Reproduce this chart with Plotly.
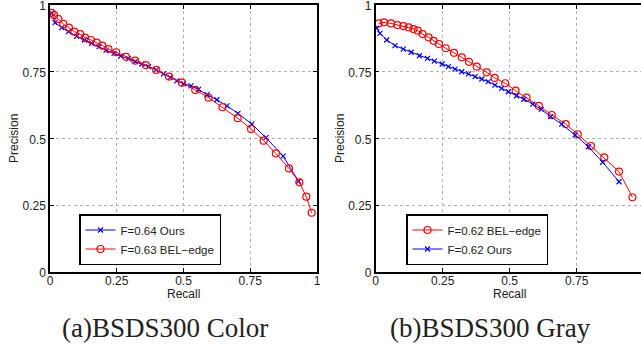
import plotly.graph_objects as go

# ---- data ----
# (a) BSDS300 Color
a_ours_recall = [0.006, 0.019, 0.044, 0.069, 0.100, 0.129, 0.156, 0.184, 0.210, 0.240,
                 0.265, 0.294, 0.319, 0.344, 0.369, 0.398, 0.425, 0.450, 0.475, 0.500,
                 0.528, 0.556, 0.588, 0.625, 0.663, 0.704, 0.756, 0.809, 0.873, 0.931]
a_ours_prec = [0.970, 0.934, 0.915, 0.900, 0.883, 0.869, 0.856, 0.844, 0.831, 0.819,
               0.809, 0.799, 0.788, 0.779, 0.769, 0.757, 0.742, 0.729, 0.716, 0.705,
               0.697, 0.684, 0.664, 0.645, 0.622, 0.594, 0.554, 0.503, 0.434, 0.340]
a_bel_recall = [0.006, 0.015, 0.031, 0.050, 0.071, 0.091, 0.113, 0.131, 0.153, 0.175,
                0.196, 0.219, 0.248, 0.285, 0.319, 0.359, 0.398, 0.446, 0.494, 0.544,
                0.594, 0.646, 0.703, 0.753, 0.800, 0.846, 0.895, 0.934, 0.960, 0.980]
a_bel_prec = [0.971, 0.962, 0.948, 0.929, 0.915, 0.900, 0.891, 0.878, 0.869, 0.859,
              0.848, 0.835, 0.823, 0.806, 0.792, 0.775, 0.757, 0.732, 0.709, 0.682,
              0.653, 0.617, 0.576, 0.536, 0.492, 0.444, 0.388, 0.336, 0.282, 0.222]

# (b) BSDS300 Gray
b_bel_recall = [0.011, 0.031, 0.057, 0.081, 0.103, 0.123, 0.141, 0.157, 0.175, 0.197,
                0.216, 0.236, 0.261, 0.292, 0.321, 0.348, 0.377, 0.414, 0.444, 0.483,
                0.522, 0.563, 0.609, 0.657, 0.709, 0.754, 0.803, 0.853, 0.908, 0.958]
b_bel_prec = [0.931, 0.935, 0.931, 0.925, 0.921, 0.916, 0.910, 0.904, 0.891, 0.879,
              0.866, 0.854, 0.838, 0.821, 0.804, 0.787, 0.769, 0.748, 0.727, 0.707,
              0.679, 0.653, 0.622, 0.588, 0.554, 0.516, 0.472, 0.429, 0.376, 0.280]
b_ours_recall = [0.004, 0.016, 0.041, 0.072, 0.103, 0.132, 0.163, 0.193, 0.219, 0.248,
                 0.271, 0.296, 0.321, 0.346, 0.371, 0.396, 0.420, 0.445, 0.470, 0.495,
                 0.526, 0.553, 0.586, 0.618, 0.653, 0.694, 0.744, 0.794, 0.847, 0.908]
b_ours_prec = [0.913, 0.894, 0.869, 0.848, 0.835, 0.823, 0.810, 0.800, 0.790, 0.779,
               0.769, 0.760, 0.750, 0.742, 0.732, 0.723, 0.713, 0.700, 0.688, 0.675,
               0.660, 0.647, 0.629, 0.609, 0.582, 0.554, 0.513, 0.469, 0.411, 0.338]

tick_vals = [0, 0.25, 0.5, 0.75, 1]
tick_text = ["0", "0.25", "0.5", "0.75", "1"]
names_a = ["F=0.64 Ours", "F=0.63 BEL\u2212edge"]
names_b = ["F=0.62 BEL\u2212edge", "F=0.62 Ours"]
captions = ["(a)BSDS300 Color", "(b)BSDS300 Gray"]
x_title = "Recall"
y_title = "Precision"

BLUE = "#0000ff"
RED = "#ff0000"
W, H = 641, 345

fig = go.Figure()

def ours_trace(x, y, name, xa, ya, leg):
    return go.Scatter(x=x, y=y, name=name, mode="lines+markers", xaxis=xa, yaxis=ya,
                      legend=leg, line=dict(color=BLUE, width=1),
                      marker=dict(symbol="x-thin", size=5, line=dict(color=BLUE, width=1.2)))

def bel_trace(x, y, name, xa, ya, leg):
    return go.Scatter(x=x, y=y, name=name, mode="lines+markers", xaxis=xa, yaxis=ya,
                      legend=leg, line=dict(color=RED, width=1),
                      marker=dict(symbol="circle-open", size=7, line=dict(color=RED, width=1.2)))

fig.add_trace(ours_trace(a_ours_recall, a_ours_prec, names_a[0], "x", "y", "legend"))
fig.add_trace(bel_trace(a_bel_recall, a_bel_prec, names_a[1], "x", "y", "legend"))
fig.add_trace(bel_trace(b_bel_recall, b_bel_prec, names_b[0], "x2", "y2", "legend2"))
fig.add_trace(ours_trace(b_ours_recall, b_ours_prec, names_b[1], "x2", "y2", "legend2"))

tick_font = dict(family="Liberation Sans, Arial, sans-serif", size=12, color="#222")
common = dict(tickvals=tick_vals, ticktext=tick_text, showline=True, linecolor="black",
              linewidth=1.5, ticks="inside", ticklen=4, tickcolor="black",
              showgrid=True, gridcolor="#b0b0b0", griddash="dot", gridwidth=1,
              zeroline=False, tickfont=tick_font, fixedrange=True,
              automargin=False, ticklabeloverflow="allow")

ydom = [1 - 272 / H, 1 - 5 / H]
x1dom = [50 / W, 317 / W]
x2dom = [375.7 / W, 1.0]
x2max = (W - 375.7) / 268.0

title_font = dict(family="Liberation Sans, Arial, sans-serif", size=12, color="#222")
leg_font = dict(family="Liberation Sans, Arial, sans-serif", size=11.5, color="#222")

fig.update_layout(
    template="none",
    width=W, height=H, margin=dict(l=0, r=0, t=0, b=0, pad=0),
    paper_bgcolor="white", plot_bgcolor="white",
    xaxis=dict(domain=x1dom, range=[0, 1], anchor="y", mirror="ticks",
               ticklabelstandoff=-3, **common),
    yaxis=dict(domain=ydom, range=[0, 1], anchor="x", mirror="ticks",
               ticklabelshift=1, **common),
    xaxis2=dict(domain=x2dom, range=[0, x2max], anchor="y2", mirror="ticks",
                ticklabelstandoff=-3, **common),
    yaxis2=dict(domain=ydom, range=[0, 1], anchor="x2", mirror=False,
                ticklabelshift=1, **common),
    legend=dict(x=79 / W, y=1 - 214 / H, xanchor="left", yanchor="top",
                bgcolor="white", bordercolor="black", borderwidth=1.5,
                font=leg_font, tracegroupgap=0, itemwidth=30),
    legend2=dict(x=406 / W, y=1 - 214 / H, xanchor="left", yanchor="top",
                 bgcolor="white", bordercolor="black", borderwidth=1.5,
                 font=leg_font, tracegroupgap=0, itemwidth=30),
    showlegend=True,
)

# axis titles
for cx in [(50 + 317) / 2, (375.7 + 643.7) / 2]:
    fig.add_annotation(text=x_title, x=cx / W, y=1 - 294 / H, xref="paper", yref="paper",
                       showarrow=False, font=title_font, xanchor="center", yanchor="middle")
for cx in [14, 340]:
    fig.add_annotation(text=y_title, x=cx / W, y=1 - 139 / H, xref="paper", yref="paper",
                       showarrow=False, font=title_font, textangle=-90,
                       xanchor="center", yanchor="middle")

cap_font = dict(family="Liberation Serif, Times New Roman, serif", size=27, color="#222")
fig.add_annotation(text=captions[0], x=165 / W, y=1 - 328 / H, xref="paper", yref="paper",
                   showarrow=False, font=cap_font, xanchor="center", yanchor="middle")
fig.add_annotation(text=captions[1], x=490 / W, y=1 - 328 / H, xref="paper", yref="paper",
                   showarrow=False, font=cap_font, xanchor="center", yanchor="middle")

fig.write_html("out.html", config={"displayModeBar": False},
               post_script="document.body.style.margin='0';document.body.style.overflow='hidden';")
